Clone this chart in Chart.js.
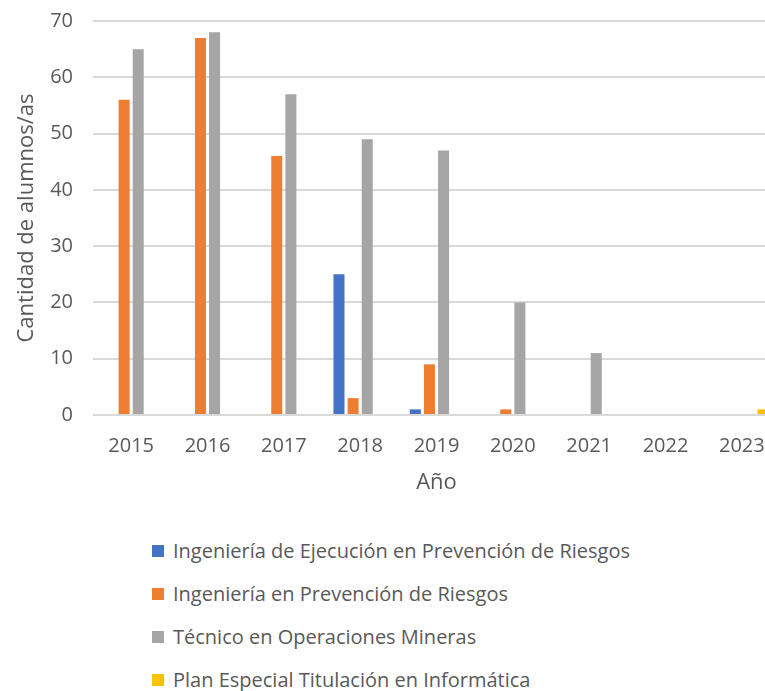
<!DOCTYPE html>
<html lang="es">
  <head>
    <meta charset="UTF-8" />
    <script src="https://cdn.jsdelivr.net/npm/chart.js"></script>
    <title>Alumnos por año</title>
    <style>
      html, body { margin: 0; padding: 0; background: #fff; overflow: hidden; }
      #wrap { position: relative; width: 780px; height: 511px; margin-top: -11px; }
      #legend {
        position: absolute; left: 152px; top: 529px;
        font-family: "Open Sans", sans-serif; font-size: 20px; color: #595959;
      }
      #legend div { height: 43px; display: flex; align-items: center; }
      #legend span.box { display: inline-block; width: 12px; height: 12px; margin-right: 9px; }
    </style>
  </head>
  <body>
    <div id="wrap"><canvas id="myChart"></canvas></div>
    <div id="legend"></div>

    <script>
      const years = ["2015", "2016", "2017", "2018", "2019", "2020", "2021", "2022", "2023"];
      const ejecucion = [0, 0, 0, 25, 1, 0, 0, 0, 0];
      const prevencion = [56, 67, 46, 3, 9, 1, 0, 0, 0];
      const mineras = [65, 68, 57, 49, 47, 20, 11, 0, 0];
      const informatica = [0, 0, 0, 0, 0, 0, 0, 0, 1];

      const names = [
        "Ingeniería de Ejecución en Prevención de Riesgos",
        "Ingeniería en Prevención de Riesgos",
        "Técnico en Operaciones Mineras",
        "Plan Especial Titulación en Informática",
      ];
      const colors = ["#4472C4", "#ED7D31", "#A5A5A5", "#FFC000"];
      const series = [ejecucion, prevencion, mineras, informatica];

      const font = "'Open Sans', sans-serif";

      const chart = new Chart(document.getElementById("myChart"), {
        type: "bar",
        data: {
          labels: years,
          datasets: series.map((d, i) => ({
            label: names[i],
            data: d,
            backgroundColor: colors[i],
            categoryPercentage: 0.74,
            barPercentage: 0.78,
          })),
        },
        options: {
          responsive: true,
          maintainAspectRatio: false,
          animation: false,
          layout: { padding: { top: 0, right: 0, left: 10, bottom: 0 } },
          plugins: { legend: { display: false }, tooltip: { enabled: false } },
          scales: {
            x: {
              grid: { display: false },
              border: { display: false },
              ticks: { color: "#595959", font: { family: font, size: 20 }, padding: 11 },
              title: {
                display: true,
                text: "Año",
                color: "#595959",
                font: { family: font, size: 22 },
                padding: { top: 5 },
              },
              afterFit: (s) => { s.height = 85; },
            },
            y: {
              min: 0,
              max: 70,
              ticks: { stepSize: 10, color: "#595959", font: { family: font, size: 20 }, padding: 20 },
              grid: { color: "#D9D9D9", lineWidth: 2, drawTicks: false },
              border: { display: false },
              title: {
                display: true,
                text: "Cantidad de alumnos/as",
                color: "#595959",
                font: { family: font, size: 22 },
                padding: { bottom: 0 },
              },
              afterFit: (s) => { s.width = 83; },
            },
          },
        },
      });

      const legend = document.getElementById("legend");
      names.forEach((n, i) => {
        legend.innerHTML += '<div><span class="box" style="background:' + colors[i] + '"></span>' + n + "</div>";
      });
    </script>
  </body>
</html>
